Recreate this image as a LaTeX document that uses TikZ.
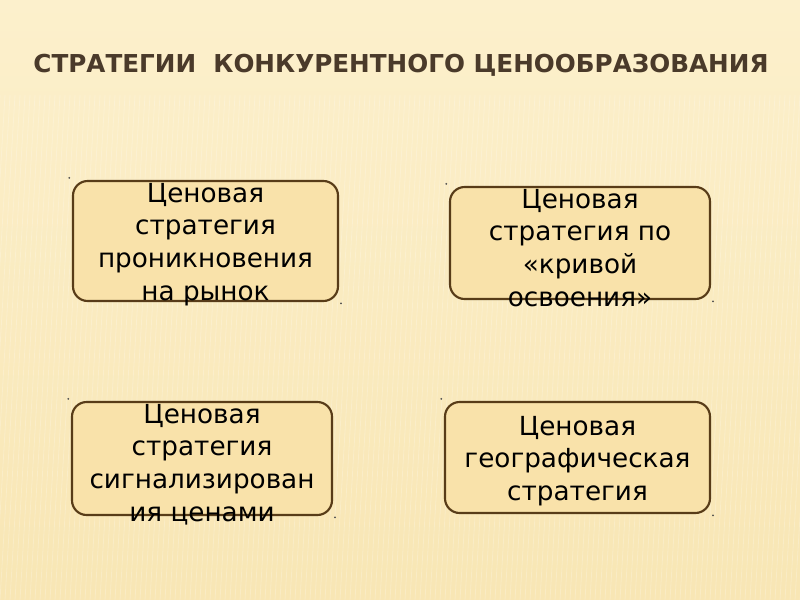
\documentclass[tikz,border=0pt]{standalone}
\usepackage{fontspec}
\setmainfont{DejaVu Sans}
\usetikzlibrary{positioning}
\definecolor{bgtop}{RGB}{252,240,204}
\definecolor{bgmid}{RGB}{248,230,180}
\definecolor{boxfill}{RGB}{249,226,170}
\definecolor{boxline}{RGB}{88,60,24}
\definecolor{titlecol}{RGB}{74,58,42}
\tikzset{
    x=0.75pt, y=-0.75pt, % one unit is one pixel of the slide
    every node/.style={ % Sets the properties for each text
        font=\fontsize{19.7}{24.6}\selectfont,
        align=center
    }
}
\begin{document}
\begin{tikzpicture}[
        card/.style={draw=boxline,line width=1.6pt,fill=boxfill,rounded corners=11pt,inner sep=0pt},
        cardtext/.style={anchor=north,inner sep=0pt},
        handle/.style={circle,fill=black!70,inner sep=0pt,minimum size=1.5pt},
    ]
        \useasboundingbox (0,0) rectangle (800,600);
        % slide background
        \fill[top color=bgtop,bottom color=bgmid] (0,0) rectangle (800,600);
        \begin{scope}
            \clip (0,0) rectangle (800,600);
            \foreach \x in {0,5,...,840}
                \draw[white,opacity=.22,line width=.6pt] (\x,95) -- (\x-30,600);
        \end{scope}
        %
        \node[font=\bfseries\fontsize{18.5}{22}\selectfont,text=titlecol] (title) at (401,65) {СТРАТЕГИИ\ \ КОНКУРЕНТНОГО ЦЕНООБРАЗОВАНИЯ};
        %
        \node[card,minimum width=198.75pt,minimum height=90pt] (pen) at (205.5,241) {};
        \node[card,minimum width=195pt,minimum height=84pt] (curve) at (580,243) {};
        \node[card,minimum width=195pt,minimum height=84.75pt] (signal) at (202,458.5) {};
        \node[card,minimum width=198.75pt,minimum height=83.25pt] (geo) at (577.5,457.5) {};
        %
        \node[cardtext] (pentext) at ([yshift=-2pt]pen.north) {Ценовая\\стратегия\\проникновения\\на рынок};
        \node[cardtext] (curvetext) at ([yshift=-2pt]curve.north) {Ценовая\\стратегия по\\«кривой\\освоения»};
        \node[cardtext] (signaltext) at ([yshift=-2pt]signal.north) {Ценовая\\стратегия\\сигнализирован\\ия ценами};
        \node[cardtext] (geotext) at ([yshift=-11pt]geo.north) {Ценовая\\географическая\\стратегия};
        %
        \foreach \b in {pen,curve,signal,geo}{
            \node[handle] at ([shift={(-2pt,1.5pt)}]\b.north west) {};
            \node[handle] at ([shift={(1.5pt,-1pt)}]\b.south east) {};
        }
    \end{tikzpicture}
\end{document}
